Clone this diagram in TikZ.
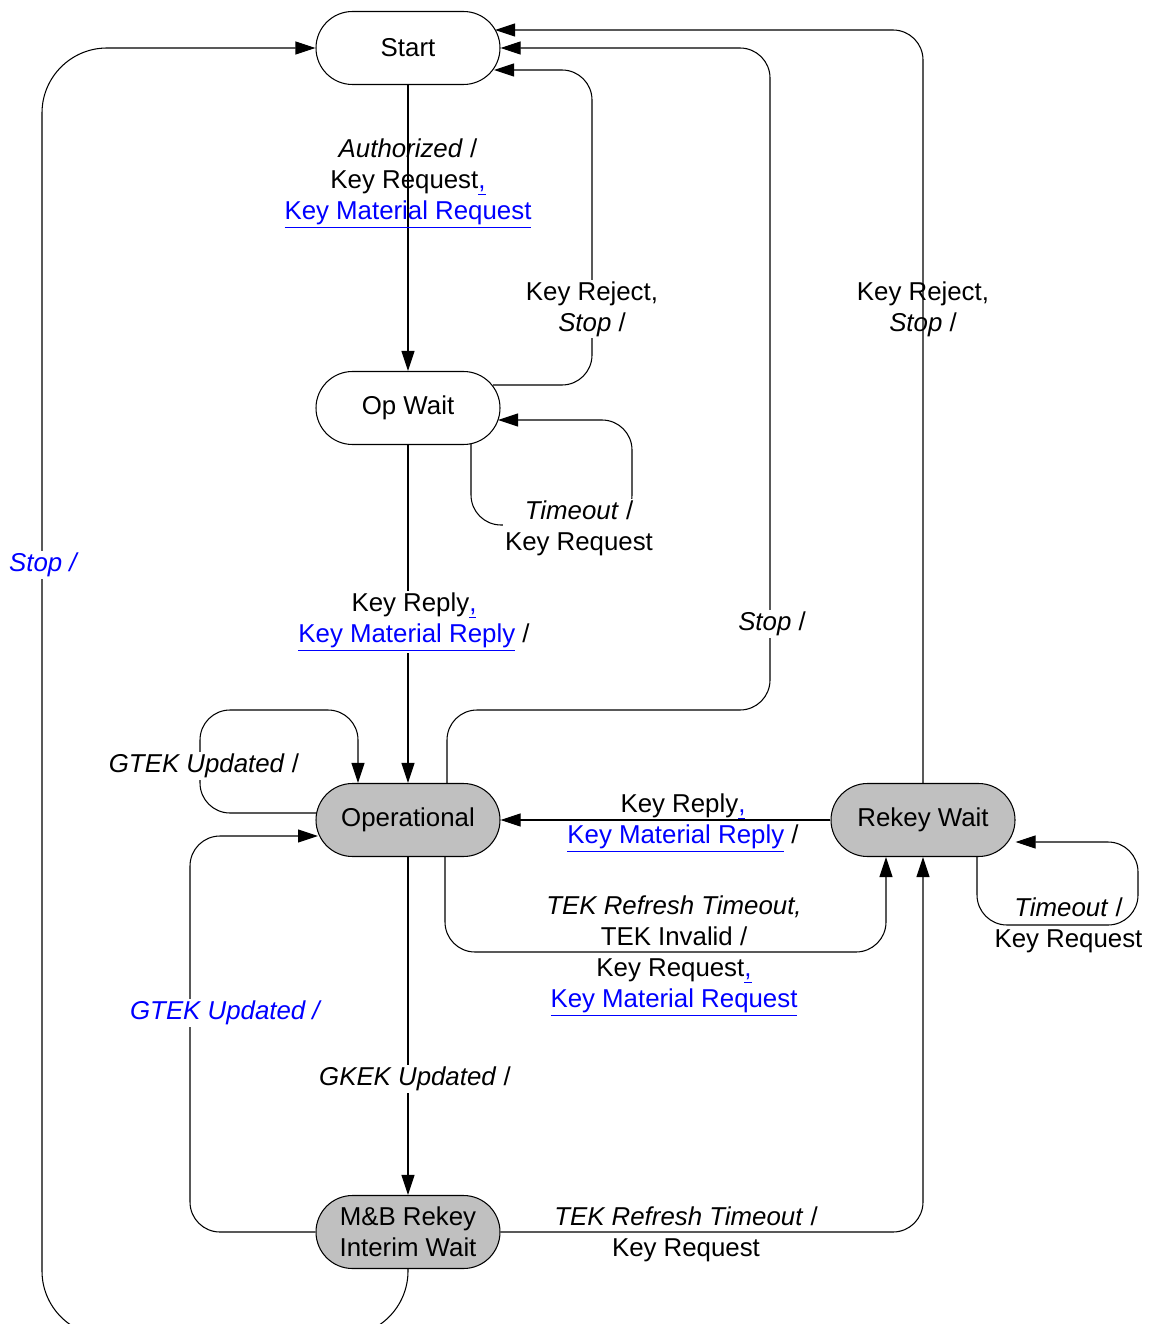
\documentclass[tikz,border=0pt]{standalone}
\usepackage{fontspec}
\setmainfont{Liberation Sans}
\usetikzlibrary{arrows.meta}
\newcommand{\lnk}[1]{\textcolor{blue}{\underline{#1}}}

\begin{document}
\begin{tikzpicture}[font=\fontsize{14.7}{17.6}\selectfont,
	state/.style={draw,line width=0.6pt,rounded corners=0.73cm,minimum width=3.68cm,minimum height=1.46cm,align=center,inner sep=0pt,fill=white},
	busy/.style={state,fill={rgb,255:red,192;green,192;blue,192}},
	arr/.style={line width=0.6pt,-{Triangle[length=4mm,width=2.6mm]},rounded corners=0.6cm},
	lbl/.style={align=center,inner sep=1pt},
	cut/.style={lbl,fill=white}]
	\useasboundingbox (0,0) rectangle (23.16,-26.48);
	\node[state] (start) at (8.16,-0.96) {Start};
	\node[state] (opwait) at (8.16,-8.16) {Op Wait};
	\node[busy] (oper) at (8.16,-16.40) {Operational};
	\node[busy] (rekey) at (18.46,-16.40) {Rekey Wait};
	\node[busy] (mbwait) at (8.16,-24.64) {M\&B Rekey\\Interim Wait};
	\draw[arr] (start) -- (opwait);
	\draw[arr] (opwait) -- (oper);
	\draw[arr] (oper) -- (mbwait);
	\draw[arr] (rekey) -- (oper);
	\draw[arr] ([shift={(1.70,0.46)}]opwait.center) -| (11.84,-4) |- ([shift={(1.72,-0.44)}]start.center);
	\draw[arr] ([xshift=0.78cm]oper.north) |- (15.40,-14.20) |- (start.east);
	\draw[arr] (rekey.north) |- ([shift={(1.74,0.36)}]start.center);
	\draw[arr,rounded corners=1.3cm] (mbwait.south) |- (0.84,-26.72) |- (start.west);
	\draw[arr] ([shift={(1.26,-0.71)}]opwait.center) |- (12.64,-10.50) |- ([shift={(1.80,-0.24)}]opwait.center);
	\draw[arr] ([shift={(-1.84,0.14)}]oper.center) -| (4.00,-14.20) -| ([xshift=-1cm]oper.north);
	\draw[arr] (mbwait.west) -| (3.80,-16.72) -- ([shift={(-1.80,-0.32)}]oper.center);
	\draw[arr] ([xshift=0.74cm]oper.south) |- (17.72,-19.04) -- ([xshift=-0.74cm]rekey.south);
	\draw[arr] ([xshift=1.08cm]rekey.south) |- (22.76,-18.50) |- ([yshift=-0.44cm]rekey.east);
	\draw[arr] (mbwait.east) -| (rekey.south);
	\node[lbl] (authorized) at (8.16,-3.67) {\textit{Authorized} /\\Key Request\lnk{,}\\\lnk{Key Material Request}};
	\node[cut] (rejectop) at (11.84,-6.18) {Key Reject,\\\textit{Stop} /};
	\node[lbl] (rejectrk) at (18.46,-6.18) {Key Reject,\\\textit{Stop} /};
	\node[cut] (timeoutop) at (11.58,-10.57) {\textit{Timeout} /\\Key Request};
	\node[cut,text=blue] (stopmb) at (0.88,-11.30) {\textit{Stop /}};
	\node[cut] (replyop) at (8.28,-12.44) {Key Reply\lnk{,}\\\lnk{Key Material Reply} /};
	\node[cut] (stopop) at (15.44,-12.48) {\textit{Stop} /};
	\node[cut] (gtekop) at (4.08,-15.32) {\textit{GTEK Updated} /};
	\node[lbl] (replyrk) at (13.66,-16.47) {Key Reply\lnk{,}\\\lnk{Key Material Reply} /};
	\node[lbl] (tekop) at (13.48,-19.12) {\textit{TEK Refresh Timeout,}\\TEK Invalid /\\Key Request\lnk{,}\\\lnk{Key Material Request}};
	\node[lbl] (timeoutrk) at (21.37,-18.51) {\textit{Timeout} /\\Key Request};
	\node[cut,text=blue] (gtekmb) at (4.52,-20.26) {\textit{GTEK Updated /}};
	\node[cut] (gkek) at (8.30,-21.58) {\textit{GKEK Updated} /};
	\node[lbl] (tekmb) at (13.72,-24.68) {\textit{TEK Refresh Timeout} /\\Key Request};
\end{tikzpicture}
\end{document}
